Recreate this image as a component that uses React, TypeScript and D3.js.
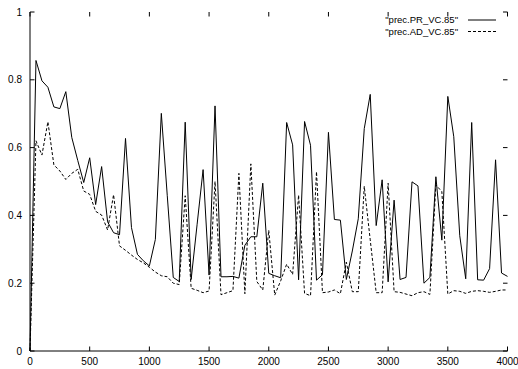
import React from "react";
import * as d3 from "d3";

const xValues = [
  0, 50, 100, 150, 200, 250, 300, 350, 400, 450, 500, 550, 600, 650, 700, 750,
  800, 850, 900, 950, 1000, 1050, 1100, 1150, 1200, 1250, 1300, 1350, 1400, 1450,
  1500, 1550, 1600, 1650, 1700, 1750, 1800, 1850, 1900, 1950, 2000, 2050, 2100,
  2150, 2200, 2250, 2300, 2350, 2400, 2450, 2500, 2550, 2600, 2650, 2700, 2750,
  2800, 2850, 2900, 2950, 3000, 3050, 3100, 3150, 3200, 3250, 3300, 3350, 3400,
  3450, 3500, 3550, 3600, 3650, 3700, 3750, 3800, 3850, 3900, 3950, 4000,
];

const precPR = [
  0, 0.857, 0.797, 0.778, 0.72, 0.715, 0.765, 0.63, 0.562, 0.497, 0.57, 0.432,
  0.544, 0.381, 0.349, 0.343, 0.627, 0.364, 0.285, 0.266, 0.251, 0.329, 0.701,
  0.458, 0.217, 0.205, 0.675, 0.211, 0.374, 0.535, 0.224, 0.723, 0.219, 0.219,
  0.22, 0.215, 0.312, 0.337, 0.337, 0.495, 0.229, 0.222, 0.216, 0.674, 0.608,
  0.21, 0.677, 0.607, 0.209, 0.225, 0.645, 0.388, 0.386, 0.211, 0.295, 0.39,
  0.656, 0.757, 0.37, 0.505, 0.204, 0.445, 0.211, 0.217, 0.499, 0.487, 0.2,
  0.217, 0.514, 0.327, 0.751, 0.632, 0.34, 0.213, 0.674, 0.21, 0.209, 0.243,
  0.564, 0.23, 0.22,
];

const precAD = [
  0, 0.62, 0.578, 0.676, 0.549, 0.531, 0.506, 0.524, 0.536, 0.472, 0.462, 0.412,
  0.401, 0.357, 0.461, 0.31, 0.297, 0.283, 0.27, 0.26, 0.247, 0.233, 0.222,
  0.219, 0.2, 0.196, 0.458, 0.185, 0.179, 0.172, 0.177, 0.5, 0.166, 0.172,
  0.178, 0.524, 0.169, 0.552, 0.205, 0.18, 0.356, 0.165, 0.207, 0.256, 0.226,
  0.46, 0.17, 0.163, 0.529, 0.172, 0.174, 0.18, 0.169, 0.262, 0.175, 0.175,
  0.486, 0.328, 0.172, 0.172, 0.495, 0.175, 0.173, 0.168, 0.163, 0.172, 0.175,
  0.167, 0.49, 0.47, 0.168, 0.178, 0.176, 0.17, 0.176, 0.178, 0.176, 0.173,
  0.176, 0.18, 0.18,
];

const xTicks = [0, 500, 1000, 1500, 2000, 2500, 3000, 3500, 4000];
const yTicks = [0, 0.2, 0.4, 0.6, 0.8, 1];
const seriesNames = ['"prec.PR_VC.85"', '"prec.AD_VC.85"'];

const W = 518;
const H = 369;
const FONT = "'Liberation Sans', Arial, Helvetica, sans-serif";

export default function App() {
  const x = d3.scaleLinear().domain([0, 4000]).range([30, 507.5]);
  const y = d3.scaleLinear().domain([0, 1]).range([351, 12]);

  const line = d3
    .line<number>()
    .x((_, i) => x(xValues[i]))
    .y((d) => y(d));

  const x0 = x(0);
  const x1 = x(4000);
  const y0 = y(0);
  const y1 = y(1);
  const tl = 4.5;

  return (
    <svg
      width={W}
      height={H}
      viewBox={`0 0 ${W} ${H}`}
      style={{ position: "absolute", left: 0, top: 0, background: "#fff" }}
      fontFamily={FONT}
    >
      <rect x={0} y={0} width={W} height={H} fill="#fff" />
      {/* axes */}
      <line x1={x0} y1={y1} x2={x0} y2={y0} stroke="#000" strokeWidth={1} />
      <line x1={x0} y1={y0} x2={x1} y2={y0} stroke="#000" strokeWidth={1} />
      {/* y ticks left & right */}
      {yTicks.map((t) => (
        <g key={"y" + t}>
          <line x1={x0} x2={x0 + tl} y1={y(t)} y2={y(t)} stroke="#000" />
          <line x1={x1} x2={x1 - tl} y1={y(t)} y2={y(t)} stroke="#000" />
          <text
            x={22}
            y={y(t)}
            textAnchor="end"
            dominantBaseline="central"
            fontSize={10}
            fill="#000"
          >
            {d3.format("~g")(t)}
          </text>
        </g>
      ))}
      {/* x ticks bottom & top */}
      {xTicks.map((t) => (
        <g key={"x" + t}>
          <line x1={x(t)} x2={x(t)} y1={y0} y2={y0 - tl} stroke="#000" />
          <line x1={x(t)} x2={x(t)} y1={y1} y2={y1 + tl} stroke="#000" />
          <text
            x={x(t)}
            y={361.5}
            textAnchor="middle"
            dominantBaseline="central"
            fontSize={10}
            fill="#000"
          >
            {t}
          </text>
        </g>
      ))}
      {/* series */}
      <path d={line(precPR) || ""} fill="none" stroke="#000" strokeWidth={1} />
      <path
        d={line(precAD) || ""}
        fill="none"
        stroke="#000"
        strokeWidth={1}
        strokeDasharray="3,2"
      />
      {/* legend */}
      <text
        x={458}
        y={19.5}
        textAnchor="end"
        dominantBaseline="central"
        fontSize={9.5}
        fill="#000"
      >
        {seriesNames[0]}
      </text>
      <line x1={468} x2={496} y1={20} y2={20} stroke="#000" />
      <text
        x={458}
        y={31}
        textAnchor="end"
        dominantBaseline="central"
        fontSize={9.5}
        fill="#000"
      >
        {seriesNames[1]}
      </text>
      <line
        x1={468}
        x2={496}
        y1={31.5}
        y2={31.5}
        stroke="#000"
        strokeDasharray="3,2"
      />
    </svg>
  );
}
